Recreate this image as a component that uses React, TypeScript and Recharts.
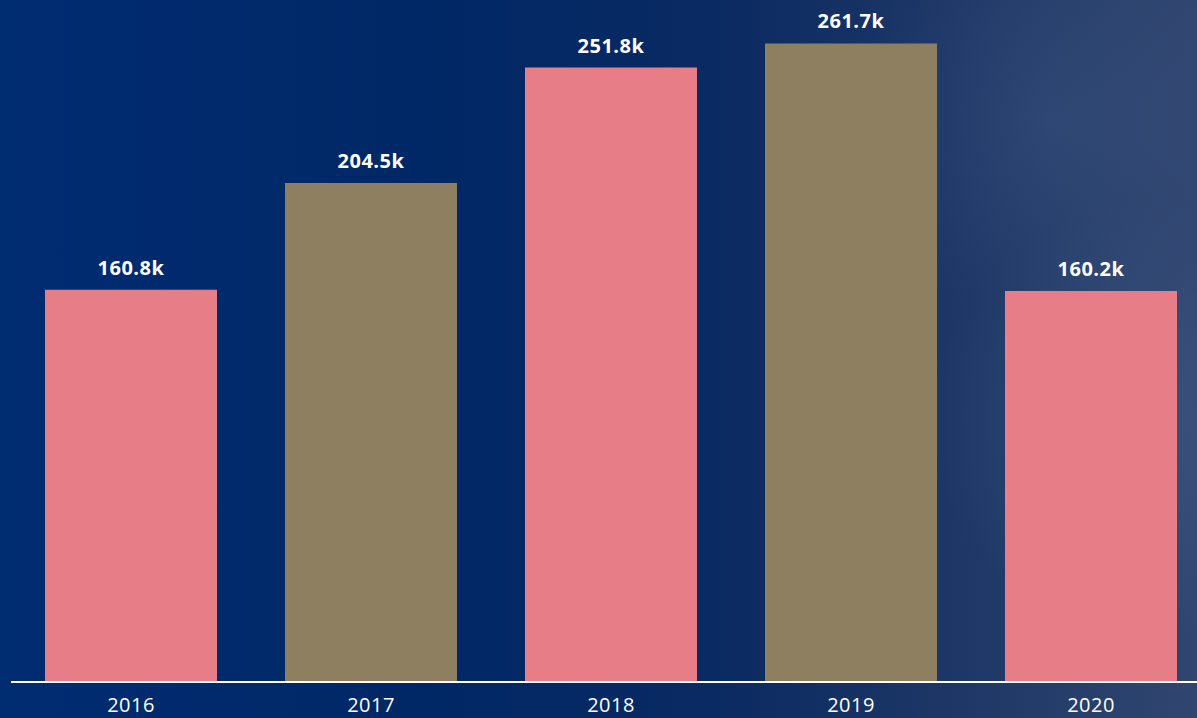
import { BarChart, Bar, XAxis, YAxis, Cell, LabelList } from "recharts";

const years = ["2016", "2017", "2018", "2019", "2020"];
const values = [160.8, 204.5, 251.8, 261.7, 160.2];
const barColors = ["#E77D87", "#8E7F61", "#E77D87", "#8E7F61", "#E77D87"];

const data = years.map((year, i) => ({ year, value: values[i] }));

export default function App() {
  return (
    <div
      style={{
        position: "fixed",
        left: 0,
        top: 0,
        width: 1197,
        height: 718,
        overflow: "hidden",
        background:
          "linear-gradient(90deg, #002C72 0%, #002866 35%, #0A2A62 60%, #1E3766 80%, #304670 100%)",
      }}
    >
      <div
        style={{
          position: "absolute",
          inset: 0,
          background:
            "radial-gradient(circle at 1150px 420px, rgba(90,115,160,0.25), rgba(0,0,0,0) 220px), radial-gradient(circle at 1050px 120px, rgba(90,115,160,0.18), rgba(0,0,0,0) 200px)",
        }}
      />
      <BarChart
        width={1211}
        height={718}
        data={data}
        margin={{ top: 0, right: 0, bottom: 6, left: 11 }}
        barCategoryGap={34}
        style={{ position: "absolute", left: 0, top: 0 }}
      >
        <XAxis
          dataKey="year"
          axisLine={{ stroke: "#FFFFFF", strokeWidth: 2 }}
          tickLine={false}
          tick={{ fill: "#FFFFFF", fontSize: 20, fontFamily: "Open Sans", fontWeight: 400, letterSpacing: 0.5 }}
          dy={8}
        />
        <YAxis hide domain={[0, 279.5]} />
        <Bar dataKey="value" isAnimationActive={false}>
          {data.map((d, i) => (
            <Cell key={d.year} fill={barColors[i]} />
          ))}
          <LabelList
            dataKey="value"
            position="top"
            offset={15}
            formatter={(v: any) => `${Number(v).toFixed(1)}k`}
            style={{ fill: "#FFFFFF", fontSize: 20, fontWeight: 700, fontFamily: "Open Sans", letterSpacing: 0.5 }}
          />
        </Bar>
      </BarChart>
    </div>
  );
}
